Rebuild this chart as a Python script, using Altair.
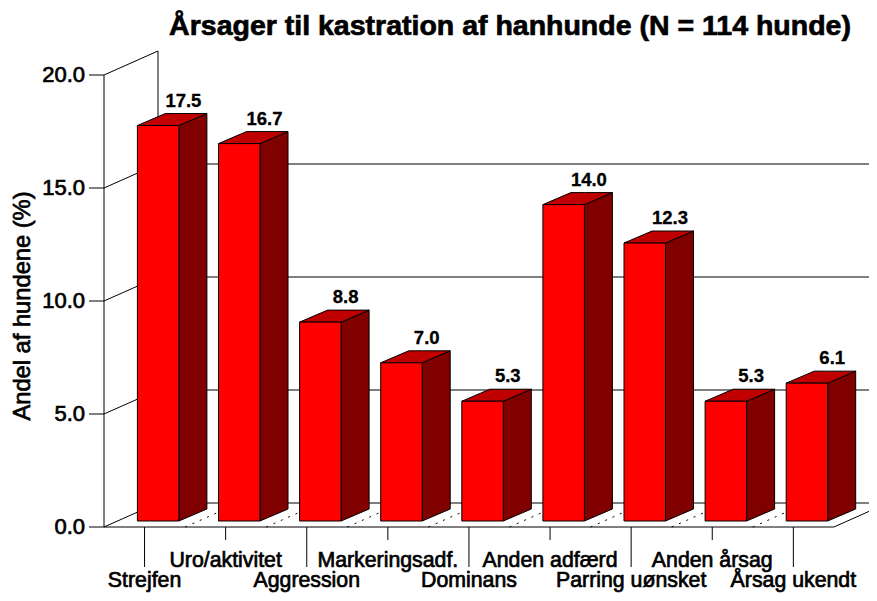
import altair as alt
import pandas as pd

categories = ["Strejfen", "Uro/aktivitet", "Aggression", "Markeringsadf.", "Dominans",
              "Anden adfærd", "Parring uønsket", "Anden årsag", "Årsag ukendt"]
values = [17.5, 16.7, 8.8, 7.0, 5.3, 14.0, 12.3, 5.3, 6.1]
value_labels = ["17.5", "16.7", "8.8", "7.0", "5.3", "14.0", "12.3", "5.3", "6.1"]
y_ticks = [0, 5, 10, 15, 20]
y_tick_labels = ["0.0", "5.0", "10.0", "15.0", "20.0"]
title = "Årsager til kastration af hanhunde (N = 114 hunde)"
y_title = "Andel af hundene (%)"

W, H = 861, 585
PX = 81.1      # px per category slot
PY = 22.6      # px per percent
X0, Y0 = 96, 519   # origin inside the svg

def ux(px):
    return px / PX

def uy(px):
    return px / PY

xs = alt.Scale(domain=[-X0 / PX, (W - X0) / PX], range=[0, W], nice=False, zero=False)
ys = alt.Scale(domain=[-(H - Y0) / PY, Y0 / PY], range=[H, 0], nice=False, zero=False)
X = alt.X("x:Q", scale=xs, axis=None)
Y = alt.Y("y:Q", scale=ys, axis=None, stack=None)
X2 = alt.X2("x2:Q")
Y2 = alt.Y2("y2:Q")

wall_dx, wall_dy = ux(54), uy(24)
bar_off_x, bar_off_y = ux(13.6), uy(6)
bar_w = ux(41.5)
bar_dx, bar_dy = ux(28), uy(12)
top_v = max(y_ticks)
n = len(categories)
right_x = ux(-X0 + W + 20)

# frame lines
lines = []
for v in y_ticks:
    lines.append(dict(x=ux(-15), x2=0, y=v, y2=v))
    lines.append(dict(x=0, x2=wall_dx, y=v, y2=v + wall_dy))
    if v < top_v:
        lines.append(dict(x=wall_dx, x2=right_x, y=v + wall_dy, y2=v + wall_dy))
lines.append(dict(x=0, x2=0, y=0, y2=top_v))
lines.append(dict(x=wall_dx, x2=wall_dx, y=wall_dy, y2=top_v + wall_dy))
lines.append(dict(x=0, x2=n, y=0, y2=0))
lines.append(dict(x=n, x2=n + wall_dx, y=0, y2=wall_dy))
for i in range(n):
    low = uy(-40) if i % 2 == 0 else uy(-13)
    lines.append(dict(x=i + .5, x2=i + .5, y=0, y2=low))
frame = alt.Chart(pd.DataFrame(lines)).mark_rule(color="black", strokeWidth=1).encode(x=X, x2=X2, y=Y, y2=Y2)

dots = pd.DataFrame([dict(x=k, x2=k + wall_dx, y=0, y2=wall_dy) for k in range(1, n)])
dotted = alt.Chart(dots).mark_rule(color="black", strokeWidth=1, strokeDash=[2, 6]).encode(x=X, x2=X2, y=Y, y2=Y2)

front, side, top = [], [], []
for i, (c, v) in enumerate(zip(categories, values)):
    l = i + .5 - bar_w / 2 + bar_off_x
    r = l + bar_w
    b = bar_off_y
    t = b + v
    front.append(dict(x=l, x2=r, y=b, y2=t))
    side.append(dict(c=c, x=r, y=b, y2=t))
    side.append(dict(c=c, x=r + bar_dx, y=b + bar_dy, y2=t + bar_dy))
    top.append(dict(c=c, x=l, y=t, y2=t))
    top.append(dict(c=c, x=l + bar_dx, y=t, y2=t + bar_dy))
    top.append(dict(c=c, x=r, y=t, y2=t + bar_dy))
    top.append(dict(c=c, x=r + bar_dx, y=t + bar_dy, y2=t + bar_dy))

front_l = alt.Chart(pd.DataFrame(front)).mark_rect(color="#ff0000", stroke="black", strokeWidth=1).encode(x=X, x2=X2, y=Y, y2=Y2)
side_l = alt.Chart(pd.DataFrame(side)).mark_area(color="#800000", stroke="black", strokeWidth=1).encode(x=X, y=Y, y2=Y2, detail="c:N")
top_l = alt.Chart(pd.DataFrame(top)).mark_area(color="#c00000", stroke="black", strokeWidth=1).encode(x=X, y=Y, y2=Y2, detail="c:N")

FONT = "Liberation Sans"

val_df = pd.DataFrame([
    dict(x=i + .5 - bar_w / 2 + bar_off_x + ux(46), y=bar_off_y + v + uy(19), t=s)
    for i, (v, s) in enumerate(zip(values, value_labels))
])
val_text = alt.Chart(val_df).mark_text(font=FONT, fontSize=18.5, fontWeight="bold", baseline="alphabetic", align="center", color="black", stroke="black", strokeWidth=0.3).encode(x=X, y=Y, text="t:N")

tick_df = pd.DataFrame([dict(x=ux(-19), y=v, t=s) for v, s in zip(y_ticks, y_tick_labels)])
tick_text = alt.Chart(tick_df).mark_text(font=FONT, fontSize=22, align="right", baseline="middle", color="black", stroke="black", strokeWidth=0.7).encode(x=X, y=Y, text="t:N")

cat_df = pd.DataFrame([
    dict(x=i + .5, y=uy(-60) if i % 2 == 0 else uy(-40), t=c) for i, c in enumerate(categories)
])
cat_text = alt.Chart(cat_df).mark_text(font=FONT, fontSize=21.3, align="center", baseline="alphabetic", color="black", stroke="black", strokeWidth=0.7).encode(x=X, y=Y, text="t:N")

title_df = pd.DataFrame([dict(x=ux(510 - 104), y=uy(527 - 26), t=title)])
title_text = alt.Chart(title_df).mark_text(font=FONT, fontSize=28.5, fontWeight="bold", align="center", baseline="middle", color="black", stroke="black", strokeWidth=0.7).encode(x=X, y=Y, text="t:N")

yt_df = pd.DataFrame([dict(x=ux(23 - 104), y=uy(527 - 306), t=y_title)])
yt_text = alt.Chart(yt_df).mark_text(font=FONT, fontSize=23.7, angle=270, align="center", baseline="middle", color="black", stroke="black", strokeWidth=0.7).encode(x=X, y=Y, text="t:N")

chart = alt.layer(frame, dotted, side_l, top_l, front_l, val_text, tick_text, cat_text, title_text, yt_text).properties(
    width=W, height=H, padding=0, autosize=alt.AutoSizeParams(type="none")
).configure_view(stroke=None)

chart.save("out.html", embed_options={"renderer": "svg", "actions": False})
